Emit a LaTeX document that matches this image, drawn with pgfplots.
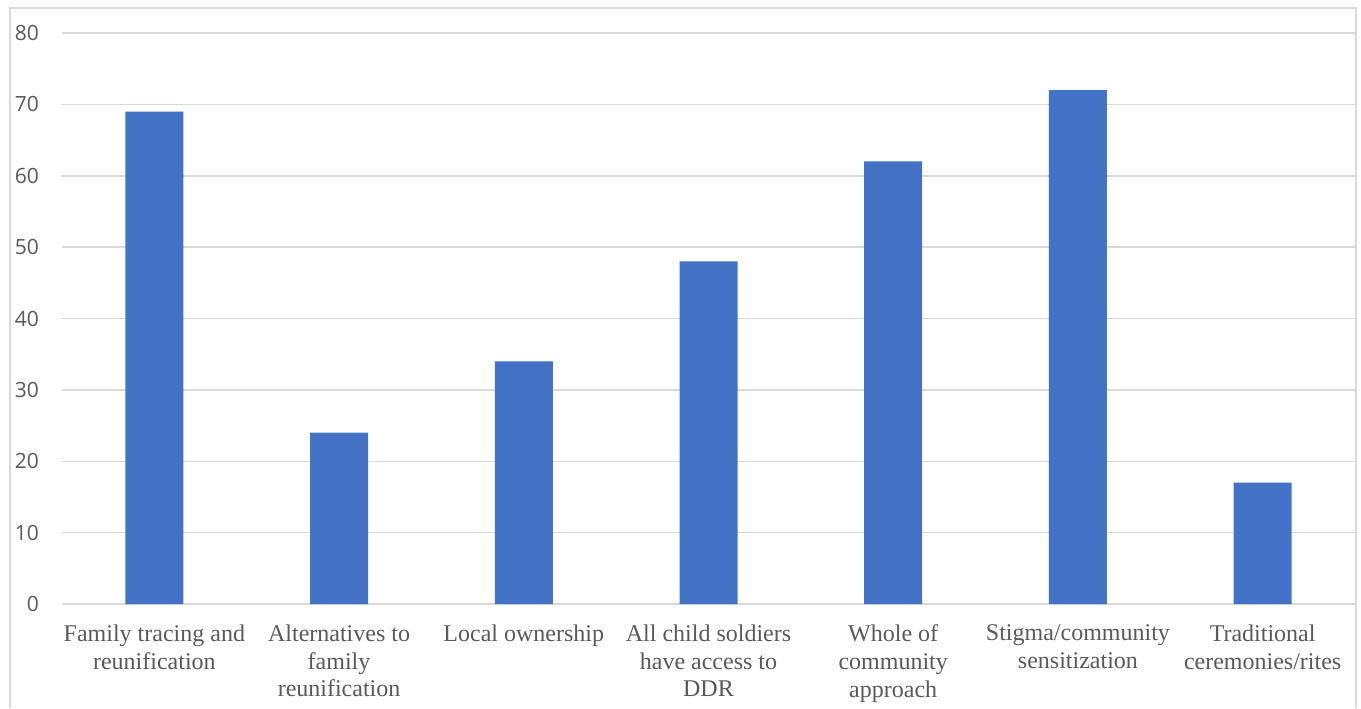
\documentclass[border=0pt]{standalone}
\usepackage{pgfplots}
\pgfplotsset{compat=1.18}
\usepackage{fontspec}
\setmainfont{Liberation Serif}
\newfontfamily\tickfont{Open Sans}
\definecolor{barblue}{HTML}{4472C4}
\definecolor{gridgray}{HTML}{D9D9D9}
\definecolor{txtgray}{HTML}{595959}
\begin{document}
\begin{tikzpicture}
\useasboundingbox (-31pt,-52pt) rectangle (649.5pt,302pt);
\draw[gridgray, line width=1pt] (-26pt,-52pt) -- (-26pt,298pt) -- (647pt,298pt) -- (647pt,-52pt);
\begin{axis}[
  at={(0pt,0pt)}, anchor=south west,
  scale only axis,
  width=646.5pt, height=285.5pt,
  xmin=-0.5, xmax=6.5, ymin=0, ymax=80,
  ytick={0,10,...,80},
  xtick={0,...,6},
  xticklabels={{Family tracing and\\reunification},{Alternatives to\\family\\reunification},{Local ownership},{All child soldiers\\have access to\\DDR},{Whole of\\community\\approach},{Stigma/community\\sensitization},{Traditional\\ceremonies/rites}},
  xticklabel style={align=center, font=\fontsize{12}{13.8}\selectfont, text=txtgray, anchor=north, yshift=-7pt},
  yticklabel style={font=\tickfont\fontsize{10.5}{12}\selectfont, text=txtgray, xshift=-8pt},
  /pgf/number format/assume math mode=true,
  axis line style={draw=none},
  major tick length=0pt,
  ymajorgrids,
  grid style={gridgray, line width=0.75pt},
  ybar, bar width=29pt,
]
\addplot[fill=barblue, draw=none] coordinates {(0,69) (1,24) (2,34) (3,48) (4,62) (5,72) (6,17)};
\end{axis}
\end{tikzpicture}
\end{document}
